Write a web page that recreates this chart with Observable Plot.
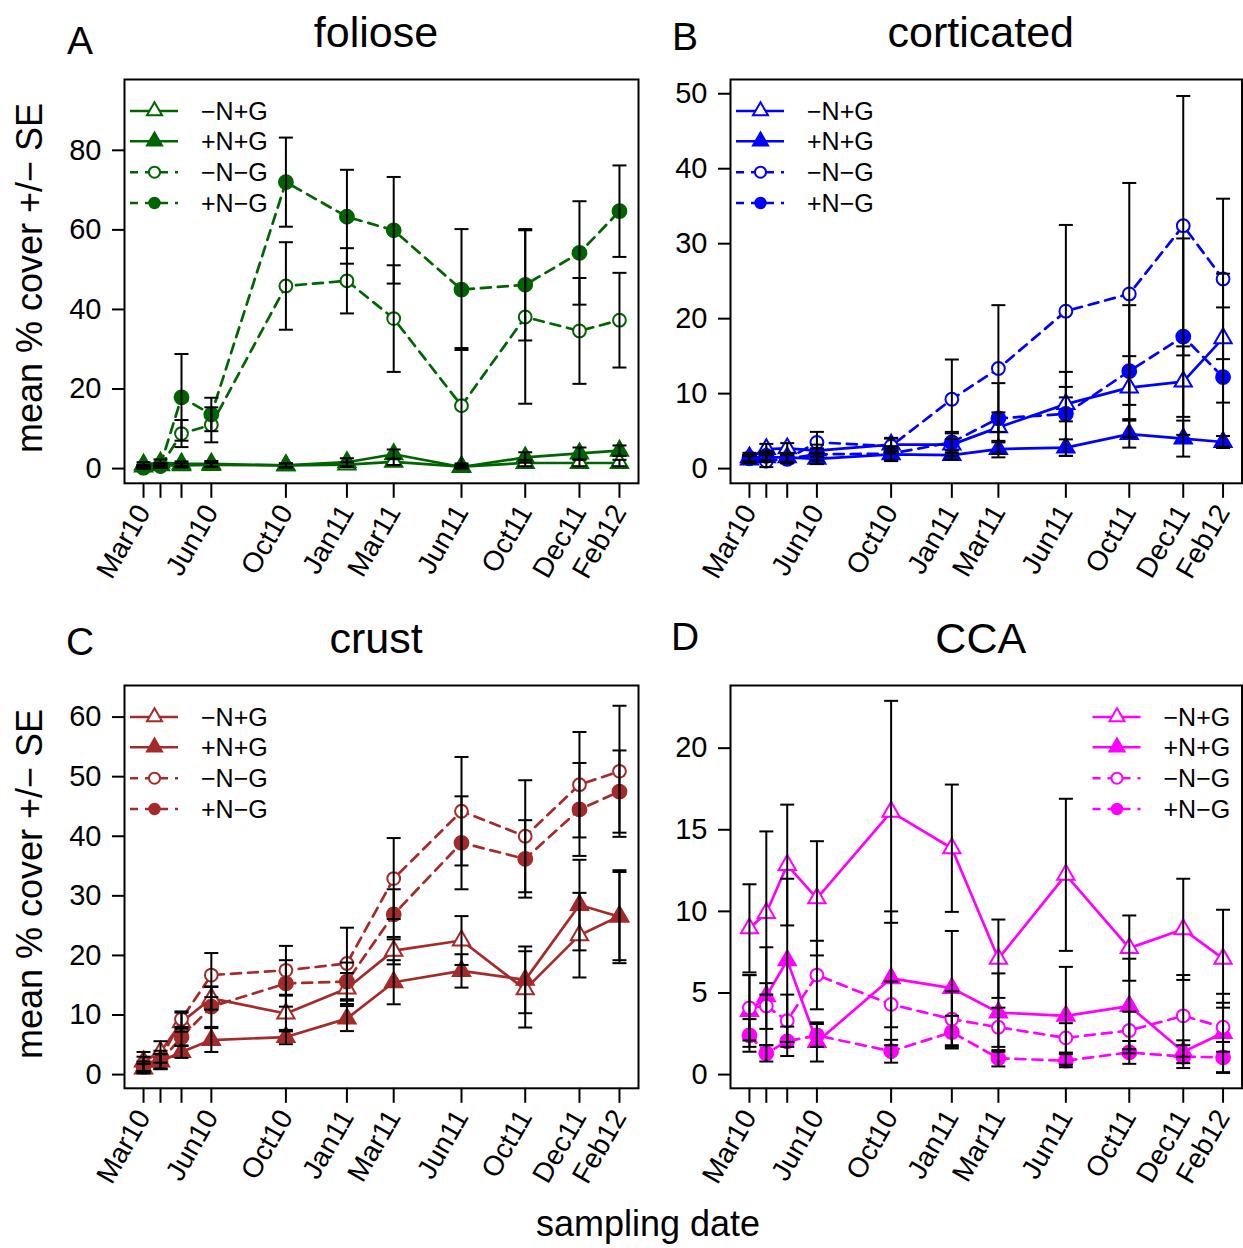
<!DOCTYPE html>
<html>
<head>
<meta charset="utf-8">
<script src="https://cdn.jsdelivr.net/npm/d3@7"></script>
<script src="https://cdn.jsdelivr.net/npm/@observablehq/plot@0.6"></script>
<style>
  body { margin: 0; background: #fff; }
  #fig { position: relative; width: 1243px; height: 1248px; overflow: hidden; background: #fff;
         font-family: "Liberation Sans", Arial, sans-serif; }
  #fig svg { position: absolute; }
</style>
</head>
<body>
<div id="fig"></div>
<script>
// Sampling dates and their axis labels (blank = unlabelled tick)
const sampleDates = ["2010-03-15", "2010-04-09", "2010-05-10", "2010-06-23", "2010-10-11", "2011-01-09",
                     "2011-03-19", "2011-06-27", "2011-09-29", "2011-12-18", "2012-02-15"];
const dateLabels = ["Mar10", "", "", "Jun10", "Oct10", "Jan11", "Mar11", "Jun11", "Oct11", "Dec11", "Feb12"];
const treatments = ["\u2212N+G", "+N+G", "\u2212N\u2212G", "+N\u2212G"];

// Foliose: mean % cover and SE per treatment
const fol_mNpG = [0.5, 0.8, 0.8, 0.9, 0.8, 1.0, 1.7, 0.5, 1.4, 1.4, 1.4];
const fol_pNpG = [1.0, 1.5, 1.2, 1.2, 0.8, 1.6, 3.6, 0.4, 2.8, 3.8, 4.5];
const fol_mNmG = [0.1, 0.5, 8.8, 11.0, 45.9, 47.2, 37.7, 15.8, 38.1, 34.6, 37.3];
const fol_pNmG = [0.3, 0.8, 17.9, 13.6, 72.0, 63.3, 59.9, 45.0, 46.2, 54.2, 64.7];
const fol_mNpG_se = [0.4, 0.5, 0.5, 0.5, 0.5, 0.6, 0.8, 0.3, 0.8, 0.8, 0.8];
const fol_pNpG_se = [0.6, 0.8, 0.6, 0.7, 0.5, 1.0, 1.2, 0.4, 1.3, 1.5, 1.3];
const fol_mNmG_se = [0.1, 0.3, 3.4, 4.4, 11.0, 8.2, 13.4, 14.5, 21.8, 13.3, 11.9];
const fol_pNmG_se = [0.3, 0.5, 10.9, 4.2, 11.2, 11.8, 13.4, 15.2, 14.0, 13.0, 11.5];

// Corticated
const cor_mNpG = [1.5, 2.6, 2.7, 2.4, 3.2, 3.2, 5.5, 8.6, 10.8, 11.6, 17.4];
const cor_pNpG = [1.2, 1.5, 1.5, 1.3, 1.9, 1.8, 2.6, 2.8, 4.6, 4.0, 3.55];
const cor_mNmG = [1.3, 1.0, 1.3, 3.5, 3.0, 9.25, 13.35, 21.0, 23.3, 32.4, 25.3];
const cor_pNmG = [1.4, 1.7, 1.3, 1.9, 2.0, 3.5, 6.7, 7.3, 13.0, 17.6, 12.2];
const cor_mNpG_se = [0.6, 0.7, 0.7, 0.8, 0.9, 1.5, 2.0, 2.3, 4.2, 4.7, 8.6];
const cor_pNpG_se = [0.5, 0.6, 0.6, 0.7, 0.8, 0.6, 1.1, 1.1, 1.8, 2.4, 0.8];
const cor_mNmG_se = [0.5, 0.8, 0.6, 1.4, 1.0, 5.3, 8.45, 11.5, 14.8, 17.3, 10.7];
const cor_pNmG_se = [0.4, 0.6, 0.5, 0.8, 1.0, 1.4, 4.7, 5.6, 8.8, 13.1, 9.3];

// Crust
const cru_mNpG = [2.2, 3.8, 8.8, 12.8, 10.25, 14.45, 20.8, 22.5, 14.3, 23.4, 26.6];
const cru_pNpG = [1.0, 2.2, 3.8, 5.8, 6.3, 9.4, 15.5, 17.4, 15.9, 28.45, 26.5];
const cru_mNmG = [1.8, 2.5, 9.3, 16.7, 17.5, 18.65, 32.9, 44.2, 40.0, 48.65, 50.9];
const cru_pNmG = [1.3, 2.2, 6.3, 11.4, 15.3, 15.6, 26.9, 38.9, 36.2, 44.5, 47.5];
const cru_mNpG_se = [1.6, 1.8, 1.6, 1.9, 3.0, 2.6, 2.3, 4.1, 6.4, 7.1, 7.4];
const cru_pNpG_se = [0.8, 1.3, 1.0, 2.0, 1.2, 2.1, 3.7, 2.8, 5.6, 7.6, 7.8];
const cru_mNmG_se = [1.2, 1.5, 1.3, 3.7, 4.1, 6.0, 6.8, 9.1, 9.4, 8.85, 11.0];
const cru_pNmG_se = [0.9, 1.2, 1.4, 3.4, 3.9, 3.2, 4.2, 7.8, 6.5, 7.8, 6.9];

// CCA
const cca_mNpG = [8.96, 9.9, 12.84, 10.8, 16.1, 13.87, 7.1, 12.24, 7.75, 8.9, 7.1];
const cca_pNpG = [3.9, 4.8, 7.0, 2.0, 5.9, 5.3, 3.8, 3.6, 4.2, 1.4, 2.55];
const cca_mNmG = [4.09, 4.2, 3.3, 6.1, 4.3, 3.4, 2.9, 2.25, 2.7, 3.6, 2.9];
const cca_pNmG = [2.4, 1.3, 2.04, 2.4, 1.43, 2.6, 1.0, 0.85, 1.36, 1.1, 1.05];
const cca_mNpG_se = [2.7, 5.0, 3.7, 3.5, 6.8, 3.9, 2.4, 4.66, 2.0, 3.1, 3.0];
const cca_pNpG_se = [2.2, 3.0, 5.0, 1.2, 4.1, 3.5, 2.4, 3.0, 2.9, 0.7, 2.4];
const cca_mNmG_se = [2.0, 1.4, 1.6, 2.1, 1.4, 1.7, 1.2, 0.9, 1.15, 2.5, 1.5];
const cca_pNmG_se = [1.0, 0.5, 0.9, 0.7, 0.7, 1.0, 0.5, 0.4, 0.7, 0.7, 0.95];

// Y-axis limits and ticks
const folioseY = [-3.7, 97.8],  folioseTicks = [0, 20, 40, 60, 80];
const corticY = [-1.96, 51.9],  corticTicks = [0, 10, 20, 30, 40, 50];
const crustY = [-2.3, 65.3],    crustTicks = [0, 10, 20, 30, 40, 50, 60];
const ccaY = [-0.84, 23.84],    ccaTicks = [0, 5, 10, 15, 20];

// Marker / line style per treatment
const styles = [
  {symbol: "triangle", filled: false, dashed: false, r: 6.4, lr: 5.6},
  {symbol: "triangle", filled: true,  dashed: false, r: 6.4, lr: 5.6},
  {symbol: "circle",   filled: false, dashed: true,  r: 6.4, lr: 5.5},
  {symbol: "circle",   filled: true,  dashed: true,  r: 6.9, lr: 5.2}
];

const dates = sampleDates.map(s => new Date(s + "T00:00:00Z"));
const pad = 0.04 * (dates[dates.length - 1] - dates[0]);
const xDomain = [new Date(+dates[0] - pad), new Date(+dates[dates.length - 1] + pad)];

const panels = [
  {letter: "A", title: "foliose", color: "#006400", box: [124, 638, 78.7, 482.5], yDomain: folioseY, yTicks: folioseTicks,
   means: [fol_mNpG, fol_pNpG, fol_mNmG, fol_pNmG], ses: [fol_mNpG_se, fol_pNpG_se, fol_mNmG_se, fol_pNmG_se], legendRight: false},
  {letter: "B", title: "corticated", color: "#0000ff", box: [730, 1241.5, 78.7, 482.5], yDomain: corticY, yTicks: corticTicks,
   means: [cor_mNpG, cor_pNpG, cor_mNmG, cor_pNmG], ses: [cor_mNpG_se, cor_pNpG_se, cor_mNmG_se, cor_pNmG_se], legendRight: false},
  {letter: "C", title: "crust", color: "#a52a2a", box: [124, 638, 684.7, 1087.5], yDomain: crustY, yTicks: crustTicks,
   means: [cru_mNpG, cru_pNpG, cru_mNmG, cru_pNmG], ses: [cru_mNpG_se, cru_pNpG_se, cru_mNmG_se, cru_pNmG_se], legendRight: false},
  {letter: "D", title: "CCA", color: "#ff00ff", box: [730, 1241.5, 684.7, 1087.5], yDomain: ccaY, yTicks: ccaTicks,
   means: [cca_mNpG, cca_pNpG, cca_mNmG, cca_pNmG], ses: [cca_mNpG_se, cca_pNpG_se, cca_mNmG_se, cca_pNmG_se], legendRight: true}
];

// Horizontal bar used as the error-bar cap
const capSymbol = {
  draw(context, size) {
    const w = Math.sqrt(size / Math.PI);
    context.moveTo(-w, 0);
    context.lineTo(w, 0);
  }
};

const FONT = "'Liberation Sans', Arial, Helvetica, sans-serif";
const fig = document.getElementById("fig");

function drawPanel(p) {
  const ml = 112, mr = 1.5, mt = 12, mb = 125;
  const width = p.box[1] - p.box[0] + ml + mr;
  const height = p.box[3] - p.box[2] + mt + mb;
  const rows = [];
  p.means.forEach((m, i) => m.forEach((v, j) => rows.push({date: dates[j], mean: v, se: p.ses[i][j], t: i})));

  const marks = [
    Plot.axisY({ticks: p.yTicks, tickSize: 12, tickPadding: 11, fontSize: 29, strokeWidth: 2, label: null}),
    Plot.axisX({ticks: dates, tickFormat: d => dateLabels[dates.findIndex(e => +e === +d)],
                tickRotate: -60, tickSize: 15, tickPadding: 9, fontSize: 28, strokeWidth: 2, label: null})
  ];
  treatments.forEach((t, i) => {
    const st = styles[i];
    const data = rows.filter(r => r.t === i);
    const lineOpts = {x: "date", y: "mean", stroke: p.color, strokeWidth: 2.7};
    if (st.dashed) lineOpts.strokeDasharray = "10,7";
    marks.push(Plot.line(data, lineOpts));
    marks.push(Plot.dot(data, {x: "date", y: "mean", symbol: st.symbol, r: st.r,
                               fill: st.filled ? p.color : "white", stroke: p.color, strokeWidth: 2}));
  });
  // error bars (mean ± SE) drawn over the markers
  marks.push(Plot.ruleX(rows, {x: "date", y1: d => d.mean - d.se, y2: d => d.mean + d.se, stroke: "black", strokeWidth: 2}));
  marks.push(Plot.dot(rows, {x: "date", y: d => d.mean + d.se, symbol: capSymbol, r: 7, stroke: "black", strokeWidth: 2, fill: "none"}));
  marks.push(Plot.dot(rows, {x: "date", y: d => d.mean - d.se, symbol: capSymbol, r: 7, stroke: "black", strokeWidth: 2, fill: "none"}));
  marks.push(Plot.frame({stroke: "black", strokeWidth: 2}));

  const svg = Plot.plot({
    width, height,
    marginLeft: ml, marginRight: mr, marginTop: mt, marginBottom: mb,
    x: {type: "utc", domain: xDomain},
    y: {domain: p.yDomain},
    style: {background: "transparent", overflow: "visible", fontFamily: FONT, color: "black"},
    marks
  });
  svg.style.left = (p.box[0] - ml) + "px";
  svg.style.top = (p.box[2] - mt) + "px";
  fig.appendChild(svg);
}

panels.forEach(drawPanel);

// Titles, panel letters, axis titles and legends
const over = d3.select(fig).append("svg")
  .attr("width", 1243).attr("height", 1248)
  .style("left", "0px").style("top", "0px")
  .style("font-family", FONT);

const letterBase = {A: 54, B: 50, C: 655, D: 650};
panels.forEach(p => {
  over.append("text").attr("x", (p.box[0] + p.box[1]) / 2 - 5).attr("y", p.box[2] - 32)
    .attr("text-anchor", "middle").attr("font-size", 43).text(p.title);
  over.append("text").attr("x", p.box[0] < 300 ? 80 : 685).attr("y", letterBase[p.letter])
    .attr("text-anchor", "middle").attr("font-size", 39).text(p.letter);

  const rowY = [32.3, 62.5, 93.5, 124.3].map(v => p.box[2] + v);
  const x0 = p.legendRight ? p.box[1] - 149 : p.box[0] + 6;
  const lg = over.append("g");
  treatments.forEach((t, i) => {
    const st = styles[i];
    const y = rowY[i];
    const ln = lg.append("line").attr("x1", x0).attr("x2", x0 + 48).attr("y1", y).attr("y2", y)
      .attr("stroke", p.color).attr("stroke-width", 2.5);
    if (st.dashed) ln.attr("stroke-dasharray", "8,7");
    const sym = st.symbol === "triangle" ? d3.symbolTriangle : d3.symbolCircle;
    lg.append("path").attr("d", d3.symbol(sym, Math.PI * st.lr * st.lr)())
      .attr("transform", `translate(${x0 + 24.5},${y})`)
      .attr("fill", st.filled ? p.color : "white").attr("stroke", p.color).attr("stroke-width", 2);
    lg.append("text").attr("x", x0 + 71).attr("y", y).attr("dy", "0.36em")
      .attr("font-size", 25).text(t);
  });
});

[278, 884].forEach(cy => {
  over.append("text").attr("transform", `translate(42,${cy}) rotate(-90)`)
    .attr("text-anchor", "middle").attr("font-size", 36).text("mean % cover +/\u2212 SE");
});
over.append("text").attr("x", 648).attr("y", 1236).attr("text-anchor", "middle")
  .attr("font-size", 36).text("sampling date");
</script>
</body>
</html>
